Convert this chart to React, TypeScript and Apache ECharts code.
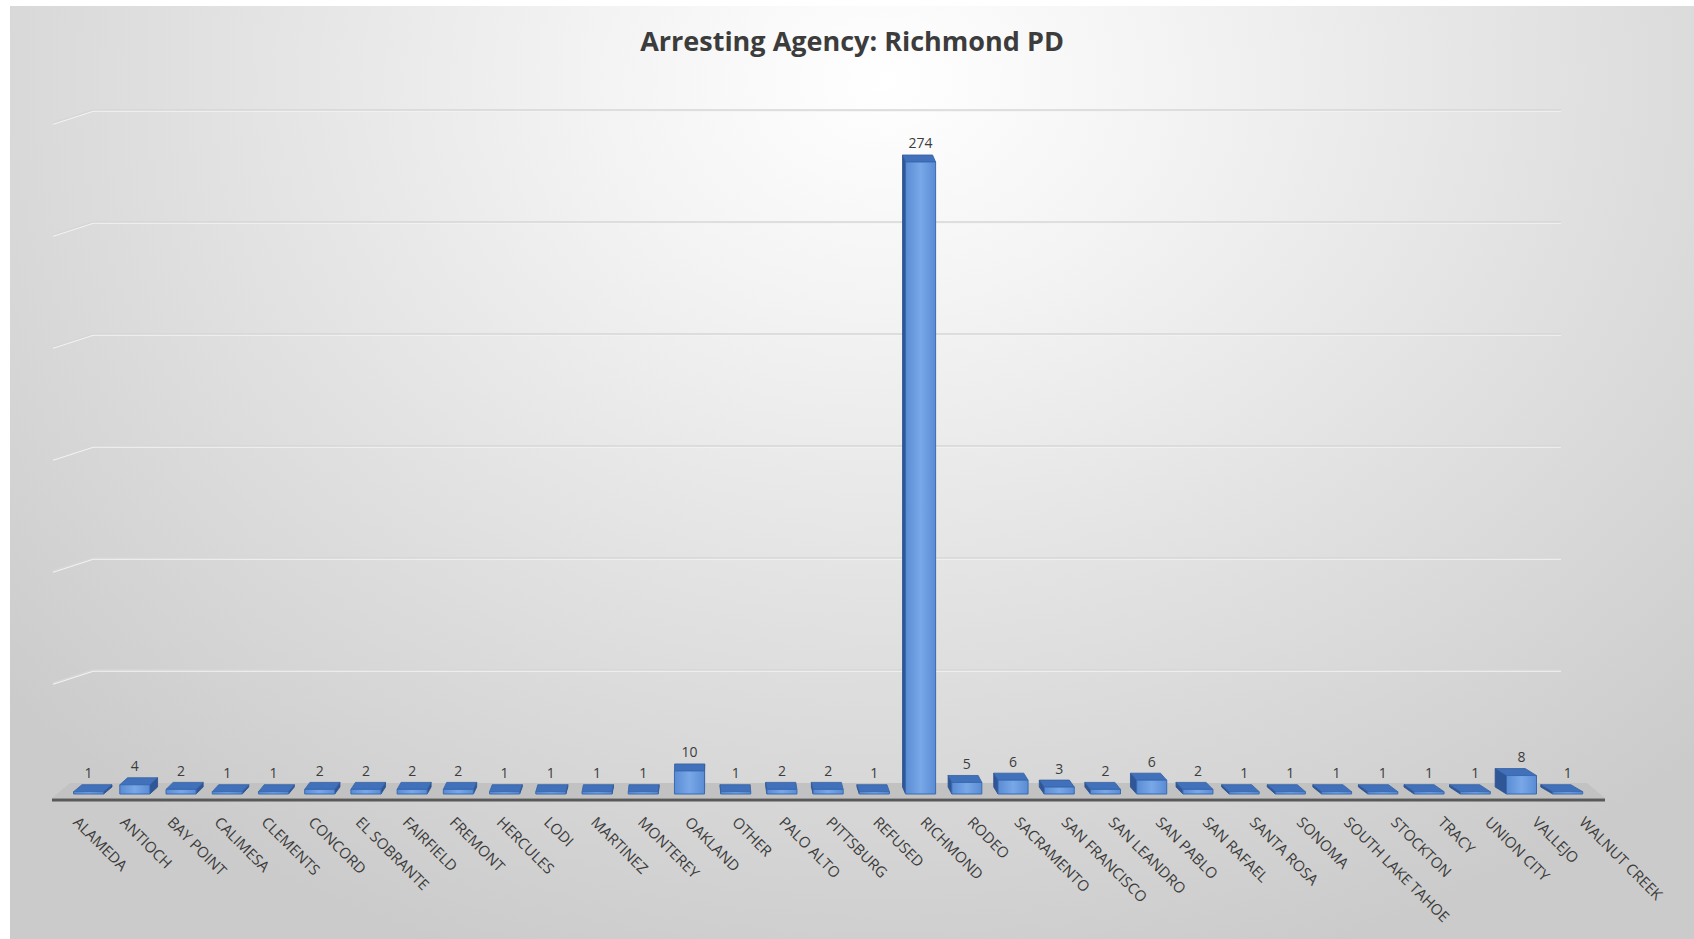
import React, { useEffect, useRef } from 'react';
import * as echarts from 'echarts';

const chartTitle = 'Arresting Agency: Richmond PD';
const categories = [
  'ALAMEDA', 'ANTIOCH', 'BAY POINT', 'CALIMESA', 'CLEMENTS', 'CONCORD', 'EL SOBRANTE',
  'FAIRFIELD', 'FREMONT', 'HERCULES', 'LODI', 'MARTINEZ', 'MONTEREY', 'OAKLAND', 'OTHER',
  'PALO ALTO', 'PITTSBURG', 'REFUSED', 'RICHMOND', 'RODEO', 'SACRAMENTO', 'SAN FRANCISCO',
  'SAN LEANDRO', 'SAN PABLO', 'SAN RAFAEL', 'SANTA ROSA', 'SONOMA', 'SOUTH LAKE TAHOE',
  'STOCKTON', 'TRACY', 'UNION CITY', 'VALLEJO', 'WALNUT CREEK',
];
const counts = [
  1, 4, 2, 1, 1, 2, 2, 2, 2, 1, 1, 1, 1, 10, 1, 2, 2, 1, 274, 5, 6, 3, 2, 6, 2, 1, 1, 1, 1, 1, 1, 8, 1,
];
const wallTicks = [50, 100, 150, 200, 250, 300];

const FONT = 'Open Sans';
const TEXT = '#3c3c3c';

export default function App() {
  const ref = useRef<HTMLDivElement>(null);
  useEffect(() => {
    document.body.style.margin = '0';
    const chart = echarts.init(ref.current as HTMLDivElement, null, { renderer: 'svg' });

    const frontFill = new echarts.graphic.LinearGradient(0, 0, 1, 0, [
      { offset: 0, color: '#5a8cd4' },
      { offset: 0.5, color: '#79a8e8' },
      { offset: 1, color: '#5a8cd4' },
    ]);

    const option: any = {
      animation: false,
      title: {
        text: chartTitle,
        left: 'center',
        top: 16,
        textStyle: { fontFamily: FONT, fontWeight: 'bold', fontSize: 27, color: TEXT },
      },
      grid: [
        { left: 83, right: 133, top: 104, bottom: 157 },
        { left: 55.5, right: 103.2, top: 96, bottom: 145 },
        { left: 42, right: 89, top: 96, bottom: 139 },
        { left: 43, right: 88, top: 96, bottom: 139 },
      ],
      xAxis: [
        { gridIndex: 0, type: 'category', data: categories, show: false },
        { gridIndex: 1, type: 'category', data: categories, show: false },
        { gridIndex: 2, type: 'category', data: categories, show: false },
        {
          gridIndex: 3,
          type: 'category',
          data: categories,
          axisLine: { show: false },
          axisTick: { show: false },
          axisLabel: {
            rotate: -45,
            interval: 0,
            margin: 19,
            fontSize: 15,
            fontFamily: FONT,
            color: TEXT,
          },
        },
      ],
      yAxis: [
        { gridIndex: 0, type: 'value', min: 0, max: 300, interval: 50, show: false },
        { gridIndex: 1, type: 'value', min: 0, max: 300, interval: 50, show: false },
        { gridIndex: 2, type: 'value', min: 0, max: 300, interval: 50, show: false },
        { gridIndex: 3, type: 'value', min: 0, max: 300, interval: 50, show: false },
      ],
      series: [
        {
          type: 'custom',
          xAxisIndex: 0,
          yAxisIndex: 0,
          silent: true,
          data: wallTicks.map((v) => [0, v]),
          renderItem: (params: any, api: any) => {
            const cs = params.coordSys;
            const y = api.coord([0, api.value(1)])[1];
            const x0 = cs.x;
            const x1 = cs.x + cs.width;
            return {
              type: 'group',
              children: [
                {
                  type: 'polyline',
                  shape: { points: [[x0 - 40, y + 14], [x0, y + 1], [x1, y + 1]] },
                  style: { stroke: '#f4f4f4', lineWidth: 1.5, fill: null },
                },
                {
                  type: 'polyline',
                  shape: { points: [[x0 - 40, y + 13], [x0, y], [x1, y]] },
                  style: { stroke: '#d6d6d6', lineWidth: 1.5, fill: null },
                },
              ],
            };
          },
        },
        {
          type: 'custom',
          xAxisIndex: 2,
          yAxisIndex: 2,
          silent: true,
          data: [[0, 0]],
          renderItem: (params: any) => {
            const cs = params.coordSys;
            const x0 = cs.x;
            const x1 = cs.x + cs.width;
            const yb = cs.y + cs.height;
            return {
              type: 'group',
              children: [
                {
                  type: 'polygon',
                  shape: { points: [[x0 + 18, yb - 17], [x1 - 18, yb - 17], [x1, yb - 2], [x0, yb - 2]] },
                  style: { fill: '#c2c2c2' },
                },
                {
                  type: 'line',
                  shape: { x1: x0, y1: yb, x2: x1, y2: yb },
                  style: { stroke: '#595959', lineWidth: 3 },
                },
              ],
            };
          },
        },
        {
          type: 'custom',
          xAxisIndex: 1,
          yAxisIndex: 1,
          data: counts.map((v, i) => [i, v]),
          renderItem: (params: any, api: any) => {
            const cs = params.coordSys;
            const i = api.value(0);
            const v = api.value(1);
            const base = api.coord([i, 0]);
            const topP = api.coord([i, v]);
            const bw = api.size([1, 0])[0] * 0.65;
            const C = cs.x + cs.width * 0.415;
            const cx = base[0];
            const dx = -(cx - C) * 0.0137;
            const dy = -7;
            const xL = cx - bw / 2;
            const xR = cx + bw / 2;
            const yT = topP[1];
            const yB = base[1];
            const sx = dx >= 0 ? xR : xL;
            return {
              type: 'group',
              children: [
                {
                  type: 'polygon',
                  shape: { points: [[sx, yT], [sx + dx, yT + dy], [sx + dx, yB + dy], [sx, yB]] },
                  style: { fill: '#2f5697', stroke: '#2a4f8c', lineWidth: 0.8 },
                },
                {
                  type: 'polygon',
                  shape: { points: [[xL, yT], [xR, yT], [xR + dx, yT + dy], [xL + dx, yT + dy]] },
                  style: { fill: '#4171bb', stroke: '#35609f', lineWidth: 0.8 },
                },
                {
                  type: 'rect',
                  shape: { x: xL, y: yT, width: bw, height: yB - yT },
                  style: { fill: frontFill, stroke: '#3a6ab0', lineWidth: 1 },
                },
                {
                  type: 'text',
                  style: {
                    text: String(v),
                    x: cx,
                    y: yT + dy - 12,
                    align: 'center',
                    verticalAlign: 'middle',
                    fontSize: 14,
                    fontFamily: FONT,
                    fill: TEXT,
                  },
                },
              ],
            };
          },
        },
      ],
    };
    chart.setOption(option);
    return () => {
      chart.dispose();
    };
  }, []);

  return (
    <div style={{ position: 'absolute', left: 0, top: 0, width: 1694, height: 939, background: '#ffffff' }}>
      <div
        style={{
          position: 'absolute',
          left: 10,
          top: 6,
          width: 1684,
          height: 933,
          background:
            'radial-gradient(ellipse 70% 100% at 52% 8%, #ffffff 0%, #f3f3f3 25%, #e0e0e0 60%, #cbcbcb 100%)',
        }}
      >
        <div ref={ref} style={{ width: 1684, height: 933 }} />
      </div>
    </div>
  );
}
